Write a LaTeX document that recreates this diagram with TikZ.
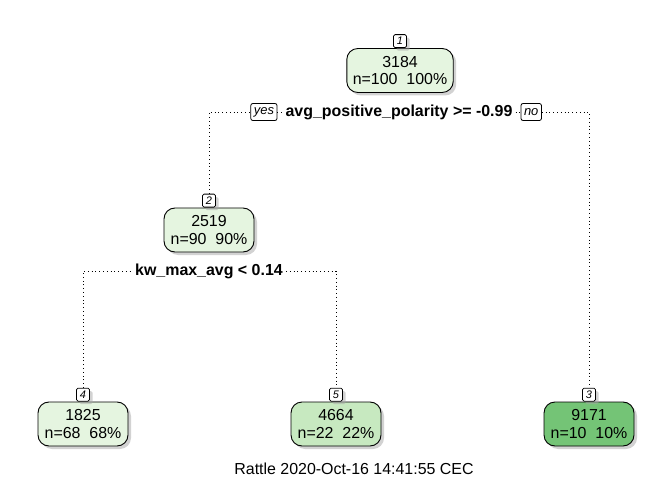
\documentclass[tikz,border=0pt]{standalone}
\usepackage{fontspec}
\setmainfont{Liberation Sans}
\usetikzlibrary{positioning,shadows}
\definecolor{leafpale}{HTML}{E5F5E0}
\definecolor{leafmid}{HTML}{C7E9C0}
\definecolor{leafdark}{HTML}{74C476}

\begin{document}
\begin{tikzpicture}[x=1bp, y=-1bp,
        boxshadow/.style={drop shadow={shadow xshift=3bp, shadow yshift=-3bp, fill=black!35}},
        nodebox/.style={draw, line width=0.9bp, rounded corners=11bp, align=center, minimum width=90bp, minimum height=44bp, inner xsep=6bp, font=\fontsize{16}{18}\selectfont, boxshadow},
        numtag/.style={draw, line width=0.8bp, rounded corners=1.5bp, fill=white, minimum width=13bp, minimum height=13bp, inner sep=1bp, font=\fontsize{11}{12}\selectfont\itshape, boxshadow},
        sidetag/.style={draw, line width=0.8bp, rounded corners=2bp, fill=white, minimum height=17bp, inner xsep=3bp, inner ysep=2bp, font=\fontsize{13}{15}\selectfont\itshape},
        splitlab/.style={inner xsep=3bp, inner ysep=1bp, font=\fontsize{16}{18}\selectfont\bfseries},
        edgeline/.style={line width=0.8bp, dash pattern=on 0.8bp off 3bp}]
                \useasboundingbox (0,0) rectangle (672,480);
                % tree nodes
                \node [nodebox, fill=leafpale] (n1) at (400,70.5) {3184\\n=100\ \ 100\%};
                \node [nodebox, fill=leafpale] (n2) at (209,230) {2519\\n=90\ \ 90\%};
                \node [nodebox, fill=leafpale] (n4) at (83,424) {1825\\n=68\ \ 68\%};
                \node [nodebox, fill=leafmid] (n5) at (336,424) {4664\\n=22\ \ 22\%};
                \node [nodebox, fill=leafdark] (n3) at (589,424) {9171\\n=10\ \ 10\%};
                \begin{scope}[every node/.style={numtag}]
                        \node [above=0pt of n1] (t1) {1};
                        \node [above=0pt of n2] (t2) {2};
                        \node [above=0pt of n4] (t4) {4};
                        \node [above=0pt of n5] (t5) {5};
                        \node [above=0pt of n3] (t3) {3};
                \end{scope}
                % split labels
                \node [splitlab] (split1) at (399,112) {avg\_positive\_polarity >= -0.99};
                \node [sidetag, left=5bp of split1] (yes) {yes};
                \node [sidetag, right=5bp of split1] (no) {no};
                \node [splitlab] (split2) at (209,271) {kw\_max\_avg < 0.14};
                % branches
                \draw [edgeline] (t2.north) |- (yes.west);
                \draw [edgeline] (yes.east) -- (split1.west);
                \draw [edgeline] (split1.east) -- (no.west);
                \draw [edgeline] (no.east) -| (t3.north);
                \draw [edgeline] (t4.north) |- (split2.west);
                \draw [edgeline] (split2.east) -| (t5.north);
                \node [font=\fontsize{16}{18}\selectfont] (footer) at (354,469) {Rattle 2020-Oct-16 14:41:55 CEC};
\end{tikzpicture}
\end{document}
